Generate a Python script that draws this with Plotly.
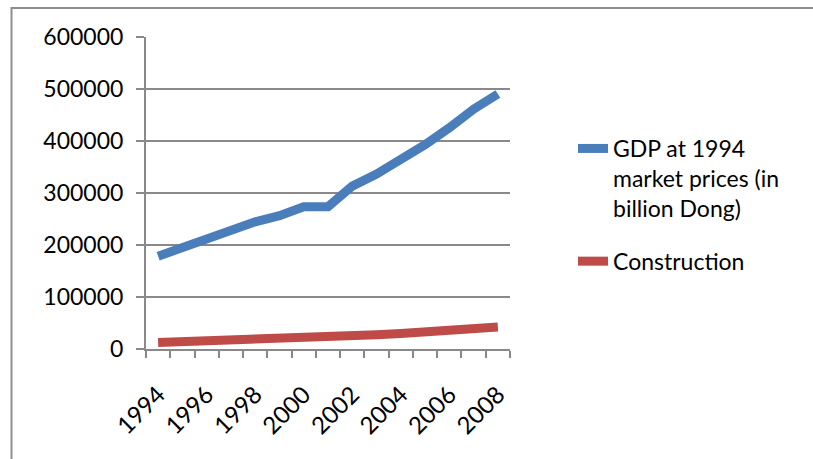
import plotly.graph_objects as go

years = list(range(1994, 2009))
gdp = [178534, 195567, 213833, 231264, 244596, 256272, 273666, 273666,
       313247, 336242, 362435, 393031, 425373, 461344, 490458]
construction = [12700, 14000, 16000, 18000, 18500, 19000, 20000, 22000,
                24500, 27500, 30000, 33500, 37500, 42500, 42500]
y_ticks = [0, 100000, 200000, 300000, 400000, 500000, 600000]
x_tick_labels = [1994, 1996, 1998, 2000, 2002, 2004, 2006, 2008]
series_names = ["GDP at 1994<br>market prices (in<br>billion Dong)", "Construction"]

W, H = 813, 459
L, R, T, B = 146, 303, 37, 110
pw, ph = W - L - R, H - T - B

FONT = "Lato"
GRID = "#898989"

fig = go.Figure()
fig.add_trace(go.Scatter(x=years, y=gdp, mode="lines", name=series_names[0],
                         legendgroup="g1",
                         line=dict(color="#4A7EBB", width=9)))
fig.add_trace(go.Scatter(x=years, y=construction, mode="lines", name=series_names[1],
                         legendgroup="g2",
                         line=dict(color="#BE4B48", width=9)))

def px_x(p):
    return (p - L) / pw

def px_y(p):
    return (H - B - p) / ph

fig.update_layout(
    width=W, height=H,
    margin=dict(l=L, r=R, t=T, b=B),
    paper_bgcolor="white", plot_bgcolor="white",
    font=dict(family=FONT, size=23, color="black"),
    showlegend=True,
    legend=dict(x=px_x(573), y=px_y(127), xanchor="left", yanchor="top",
                valign="top", tracegroupgap=20, font=dict(size=23),
                bgcolor="rgba(0,0,0,0)"),
    xaxis=dict(range=[1993.5, 2008.5], tickmode="array", tickvals=x_tick_labels,
               ticktext=[str(v) for v in x_tick_labels], tickangle=-45,
               ticks="", showgrid=False, zeroline=False,
               showline=True, linecolor=GRID, linewidth=2,
               ticklabelstandoff=20, tickfont=dict(size=24),
               minor=dict(ticks="outside", ticklen=7, tickwidth=2, tickcolor=GRID,
                          tick0=1993.5, dtick=1, showgrid=False)),
    yaxis=dict(range=[0, 600000], tickmode="array", tickvals=y_ticks,
               ticktext=[str(v) for v in y_ticks],
               ticks="outside", ticklen=8, tickwidth=2, tickcolor=GRID,
               showgrid=True, gridcolor=GRID, gridwidth=2, zeroline=False,
               showline=True, linecolor=GRID, linewidth=2,
               ticklabelstandoff=8),
    shapes=[dict(type="rect", xref="paper", yref="paper",
                 x0=px_x(11.5), x1=px_x(W + 20), y0=px_y(H + 20), y1=px_y(8),
                 line=dict(color="#8e8e8e", width=2), layer="below")],
)

fig.write_html("out.html")
